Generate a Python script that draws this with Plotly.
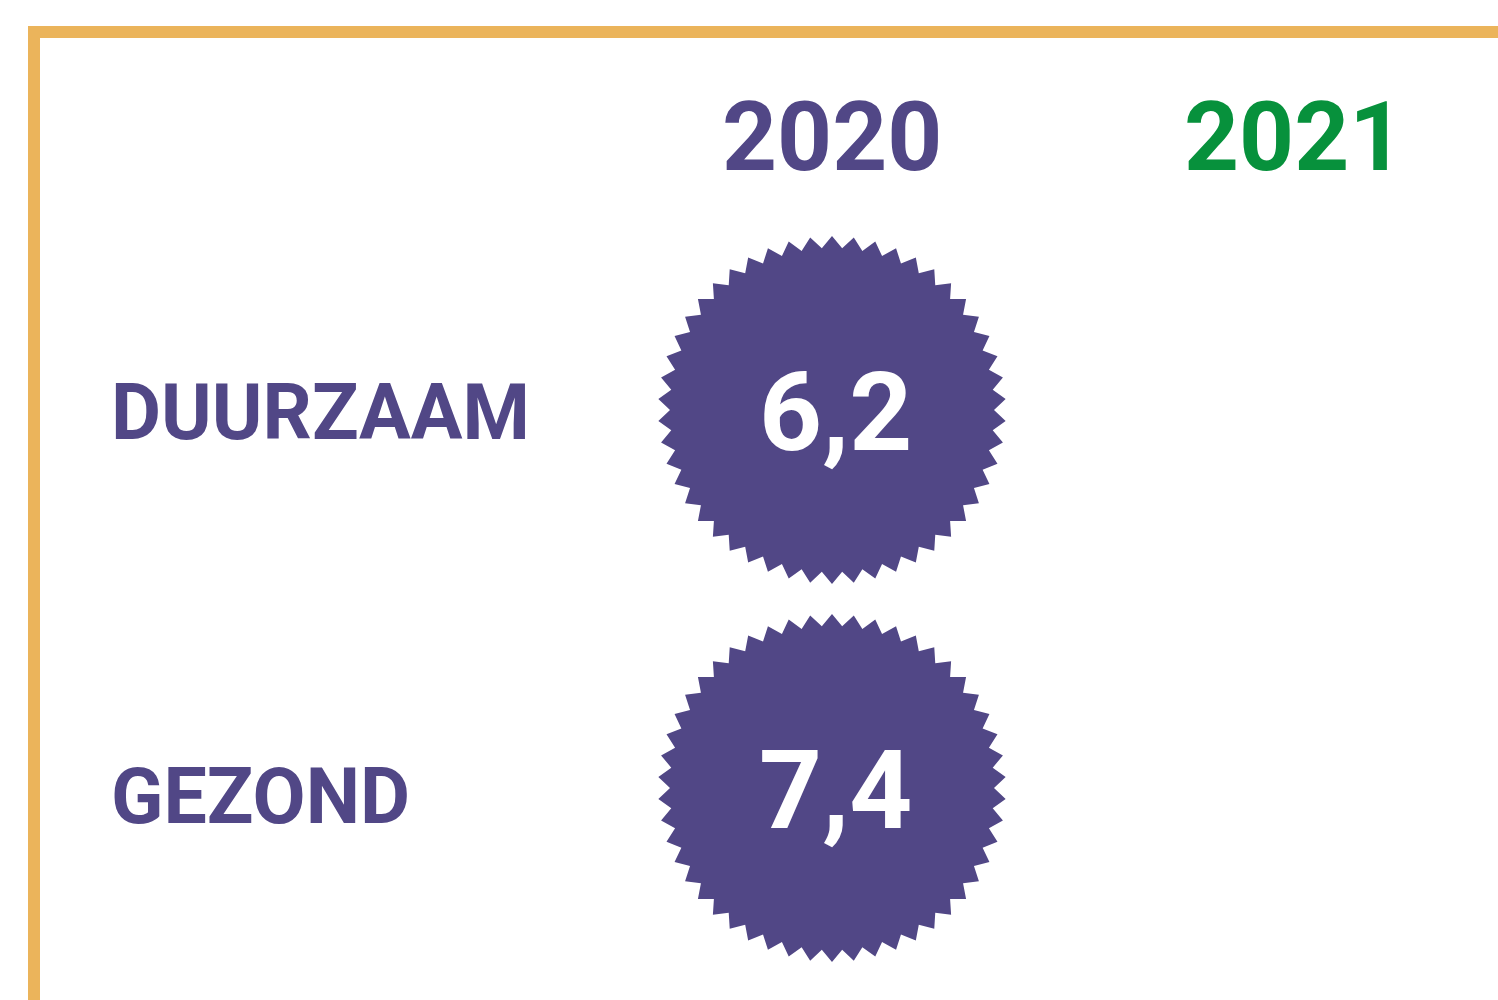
import numpy as np
import plotly.graph_objects as go

# ---- data ----
years = ["2020", "2021"]
categories = ["DUURZAAM", "GEZOND"]
scores_2020 = [6.2, 7.4]
scores_2021 = [None, None]
series = {"2020": scores_2020, "2021": scores_2021}

# ---- style ----
W, H = 1498, 1000
PURPLE = "#514786"
GREEN = "#07913C"
ORANGE = "#EBB45B"
YEAR_COLORS = {"2020": PURPLE, "2021": GREEN}
FONT = "Roboto"
LABEL_YSHIFT = [-3, -9]

X_RANGE = [-1.8009, 1.4416]
Y_RANGE = [1.5608, -1.0847]  # reversed
px_x = W / (X_RANGE[1] - X_RANGE[0])
px_y = H / abs(Y_RANGE[0] - Y_RANGE[1])

N_SPIKES = 50
R_OUT, R_IN = 174, 162

def starburst(cx, cy):
    xs, ys = [], []
    step = 2 * np.pi / N_SPIKES
    for k in range(N_SPIKES):
        a = np.pi / 2 + k * step
        for r, aa in ((R_OUT, a), (R_IN, a + step / 2)):
            xs.append(cx + r * np.cos(aa) / px_x)
            ys.append(cy - r * np.sin(aa) / px_y)
    xs.append(xs[0]); ys.append(ys[0])
    return xs, ys

fig = go.Figure()
annotations = []
for xi, yr in enumerate(years):
    for yi, cat in enumerate(categories):
        v = series[yr][yi]
        if v is None:
            continue
        sx, sy = starburst(xi, yi)
        fig.add_trace(go.Scatter(x=sx, y=sy, mode="lines", fill="toself",
                                 fillcolor=YEAR_COLORS[yr], line=dict(width=0, color=YEAR_COLORS[yr]),
                                 hoverinfo="skip", showlegend=False))
        annotations.append(dict(x=xi, y=yi, xref="x", yref="y",
                                text=f"{v:.1f}".replace(".", ","),
                                showarrow=False, xanchor="center", yanchor="middle",
                                xshift=3, yshift=-2,
                                font=dict(family=FONT, size=110, color="white", weight=700)))

for xi, yr in enumerate(years):
    annotations.append(dict(x=xi, y=1 - 137 / H, xref="x", yref="paper", text=yr,
                            showarrow=False, xanchor="center", yanchor="middle",
                            font=dict(family=FONT, size=96, color=YEAR_COLORS[yr], weight=700)))

for yi, cat in enumerate(categories):
    annotations.append(dict(x=109 / W, y=yi, xref="paper", yref="y", text=cat,
                            showarrow=False, xanchor="left", yanchor="middle",
                            yshift=LABEL_YSHIFT[yi],
                            font=dict(family=FONT, size=77, color=PURPLE, weight=700)))

shapes = [
    dict(type="rect", xref="paper", yref="paper", x0=28 / W, x1=1, y0=1 - 38 / H, y1=1 - 26 / H,
         fillcolor=ORANGE, line=dict(width=0), layer="below"),
    dict(type="rect", xref="paper", yref="paper", x0=28 / W, x1=40 / W, y0=0, y1=1 - 26 / H,
         fillcolor=ORANGE, line=dict(width=0), layer="below"),
]

fig.update_layout(
    width=W, height=H, margin=dict(l=0, r=0, t=0, b=0),
    paper_bgcolor="white", plot_bgcolor="white",
    xaxis=dict(range=X_RANGE, visible=False, fixedrange=True),
    yaxis=dict(range=Y_RANGE, visible=False, fixedrange=True),
    annotations=annotations, shapes=shapes, showlegend=False,
)

fig.write_html("out.html", config={"displayModeBar": False},
               post_script="document.body.style.margin='0';document.body.style.overflow='hidden';")
